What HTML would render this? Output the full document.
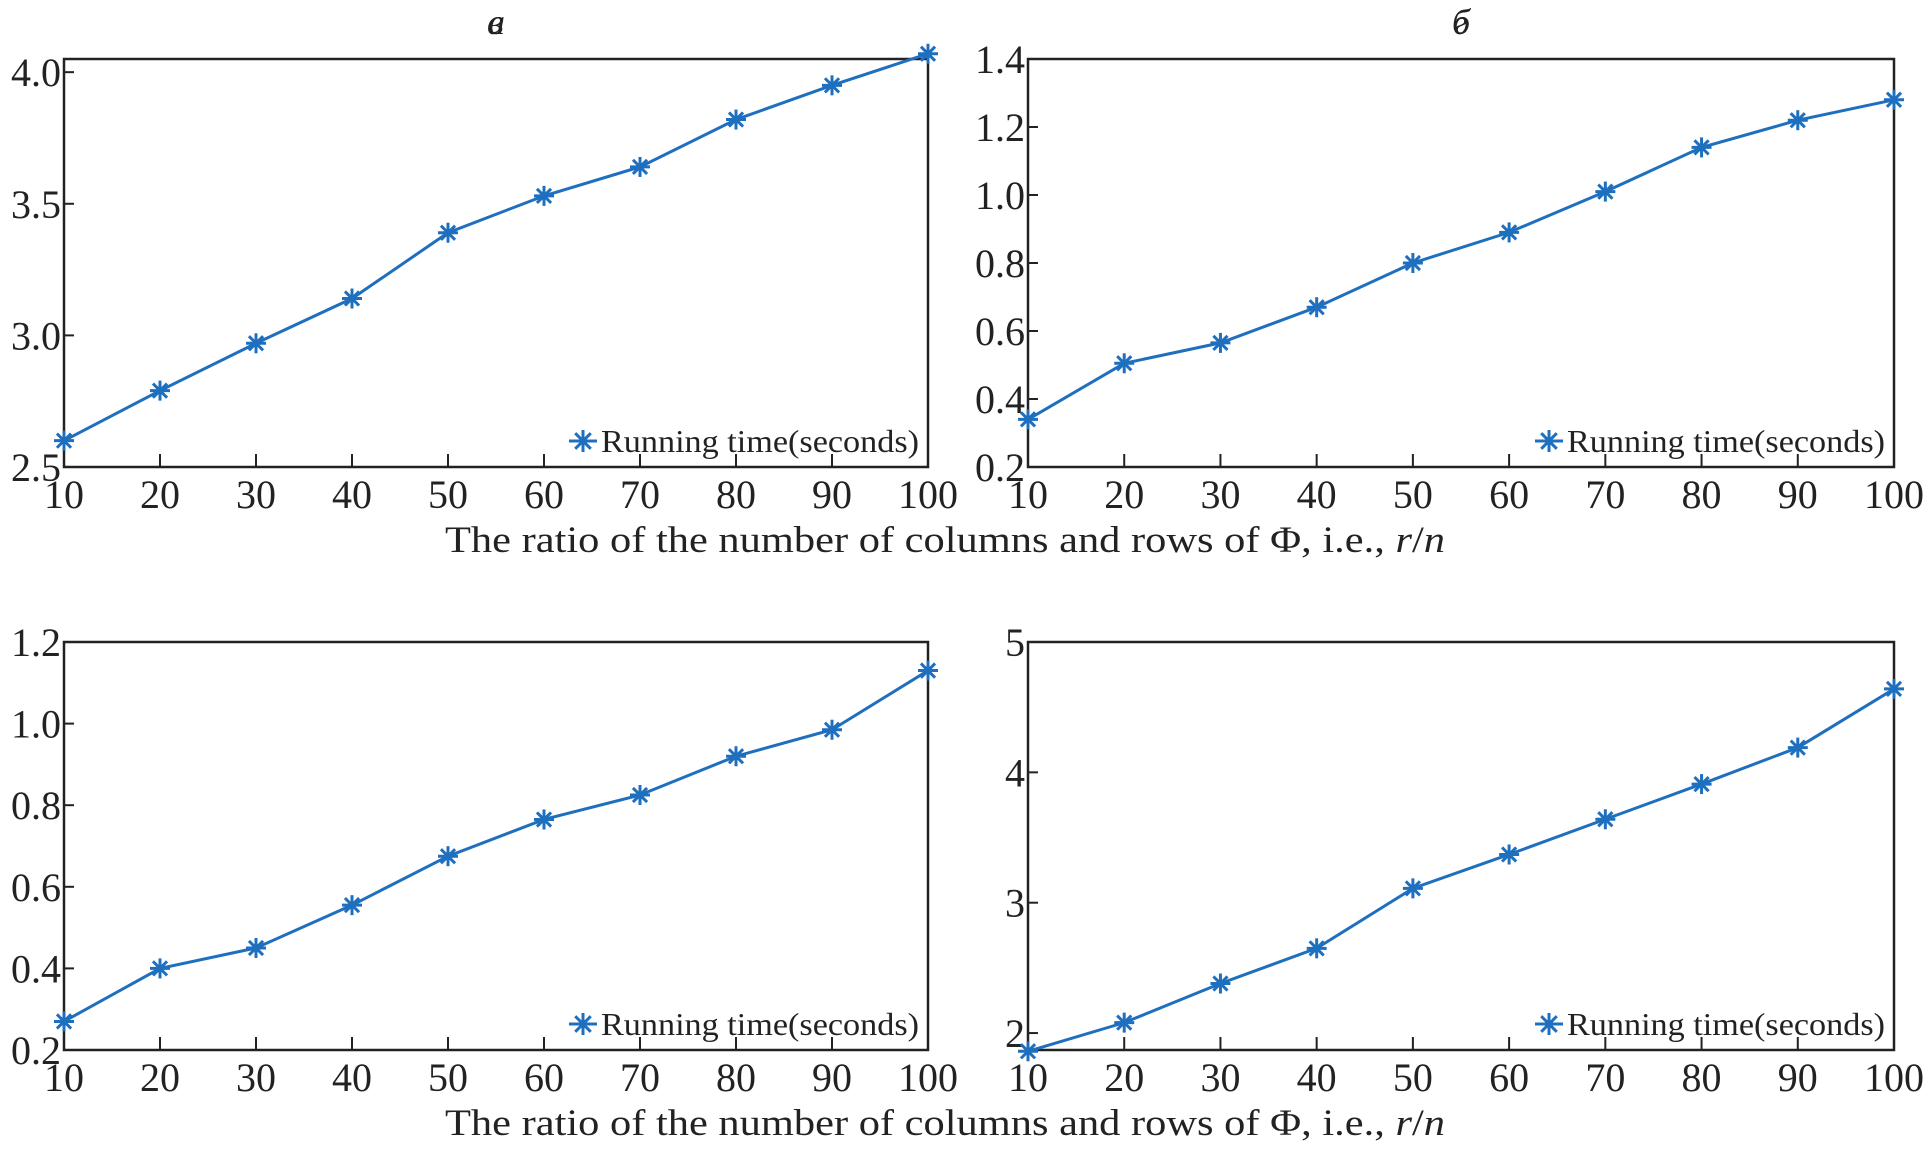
<!DOCTYPE html>
<html><head><meta charset="utf-8"><style>
html,body{margin:0;padding:0;background:#fff;}
svg{display:block;font-family:"Liberation Serif",serif;}
</style></head><body>
<svg id="fig" width="1924" height="1149" viewBox="0 0 1924 1149" xmlns="http://www.w3.org/2000/svg"></svg>
<script>
const categories = [10,20,30,40,50,60,70,80,90,100];
const seriesA = [2.60,2.79,2.97,3.14,3.39,3.53,3.64,3.82,3.95,4.07];
const seriesB = [0.34,0.505,0.565,0.67,0.80,0.89,1.01,1.14,1.22,1.28];
const seriesC = [0.27,0.40,0.45,0.555,0.675,0.765,0.825,0.92,0.985,1.13];
const seriesD = [1.86,2.08,2.38,2.65,3.11,3.37,3.64,3.91,4.19,4.64];
const ticksA = ["2.5","3.0","3.5","4.0"];
const ticksB = ["0.2","0.4","0.6","0.8","1.0","1.2","1.4"];
const ticksC = ["0.2","0.4","0.6","0.8","1.0","1.2"];
const ticksD = ["2","3","4","5"];
const titles = ["а","б","в","г"];

const NS="http://www.w3.org/2000/svg";
const svg=document.getElementById('fig');
const COLOR="#1f6fbf";
function mk(tag,attrs,parent){const e=document.createElementNS(NS,tag);for(const k in attrs)e.setAttribute(k,attrs[k]);(parent||svg).appendChild(e);return e;}

const panels=[
 {L:64,R:928,T:59,B:467,ymin:2.5,ymax:4.05,data:seriesA,ticks:ticksA,title:titles[0],name:'panel-a'},
 {L:1028,R:1894,T:59,B:467,ymin:0.2,ymax:1.4,data:seriesB,ticks:ticksB,title:titles[1],name:'panel-b'},
 {L:64,R:928,T:642,B:1050,ymin:0.2,ymax:1.2,data:seriesC,ticks:ticksC,title:titles[2],name:'panel-c'},
 {L:1028,R:1894,T:642,B:1050,ymin:1.87,ymax:5,data:seriesD,ticks:ticksD,title:titles[3],name:'panel-d'}
];

function star(parent,cx,cy,d){
 const m=mk('g',{stroke:COLOR,'stroke-width':3},parent);
 for(let a=0;a<180;a+=45){const r=a*Math.PI/180;
  mk('line',{x1:cx-d*Math.cos(r),y1:cy-d*Math.sin(r),x2:cx+d*Math.cos(r),y2:cy+d*Math.sin(r)},m);}
 return m;
}

panels.forEach(p=>{
 const g=mk('g',{});
 
 
 const xs=v=>p.L+(v-10)/90*(p.R-p.L);
 const ys=v=>p.B-(v-p.ymin)/(p.ymax-p.ymin)*(p.B-p.T);
 const t=mk('text',{x:(p.L+p.R)/2,y:34,'font-size':36,'font-style':'italic','text-anchor':'middle',fill:'#222'},g);
 t.textContent=p.title;
 
 
 const box=mk('rect',{x:p.L,y:p.T,width:p.R-p.L,height:p.B-p.T,fill:'none',stroke:'#222','stroke-width':2.5},g);
 
 
 categories.forEach(c=>{
  const x=xs(c);
  mk('line',{x1:x,x2:x,y1:p.B,y2:p.B-13,stroke:'#222','stroke-width':2},g);
  const l=mk('text',{x:x,y:p.B+41,'font-size':40,'text-anchor':'middle',fill:'#222'},g);
  l.textContent=c;
  
  
 });
 p.ticks.forEach(s=>{
  const v=parseFloat(s), y=ys(v);
  mk('line',{x1:p.L,x2:p.L+10,y1:y,y2:y,stroke:'#222','stroke-width':2},g);
  const l=mk('text',{x:p.L-3,y:y+14,'font-size':40,'text-anchor':'end',fill:'#222'},g);
  l.textContent=s;
  
  
 });
 const pts=p.data.map((v,i)=>xs(categories[i])+','+ys(v)).join(' ');
 const line=mk('polyline',{points:pts,fill:'none',stroke:COLOR,'stroke-width':3},g);
 
 
 p.data.forEach((v,i)=>{
  const m=star(g,xs(categories[i]),ys(v),10);
  
  
 });
 const lg=mk('g',{},g);
 
 
 const lx=p.R-345, ly=p.B-26;
 mk('line',{x1:lx-14,x2:lx+14,y1:ly,y2:ly,stroke:COLOR,'stroke-width':3},lg);
 star(lg,lx,ly,11);
 const lt=mk('text',{x:p.R-327,y:p.B-15,'font-size':32,fill:'#222',textLength:318,lengthAdjust:'spacingAndGlyphs'},lg);
 lt.textContent='Running time(seconds)';
});
[540,1123].forEach(y=>{
 const t=mk('text',{x:445,y:y+12,'font-size':37,fill:'#222',textLength:1000,lengthAdjust:'spacingAndGlyphs'});
 
 
 t.innerHTML='The ratio of the number of columns and rows of Φ, i.e., <tspan font-style="italic">r</tspan>/<tspan font-style="italic">n</tspan>';
});
</script>
</body></html>
